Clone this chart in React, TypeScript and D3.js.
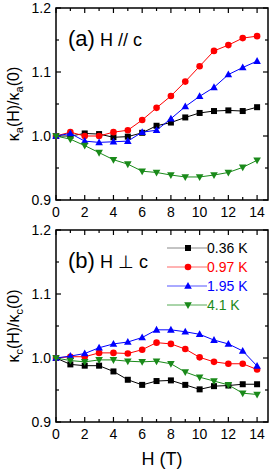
import React from "react";
import * as d3 from "d3";

const fields = d3.range(0, 15);

// panel (a) H // c
const aBlack = [1.0, 1.0, 1.004, 1.003, 0.998, 0.999, 1.005, 1.016, 1.021, 1.029, 1.036, 1.039, 1.04, 1.039, 1.045];
const aRed = [1.0, 1.006, 1.0, 1.0, 1.006, 1.009, 1.025, 1.044, 1.0625, 1.085, 1.109, 1.133, 1.142, 1.153, 1.156];
const aBlue = [1.0, 1.004, 0.992, 0.99, 0.991, 0.992, 1.006, 1.009, 1.027, 1.046, 1.062, 1.076, 1.096, 1.107, 1.117];
const aGreen = [1.0, 0.995, 0.985, 0.974, 0.963, 0.956, 0.945, 0.943, 0.939, 0.936, 0.936, 0.939, 0.943, 0.951, 0.962];

// panel (b) H ⊥ c
const bBlack = [1.0, 0.99, 0.988, 0.988, 0.979, 0.966, 0.958, 0.964, 0.965, 0.958, 0.951, 0.956, 0.957, 0.959, 0.959];
const bRed = [1.0, 1.002, 1.002, 1.008, 1.008, 1.007, 1.013, 1.024, 1.022, 1.014, 1.001, 0.994, 0.991, 0.991, 0.982];
const bBlue = [1.0, 1.003, 1.007, 1.016, 1.022, 1.025, 1.032, 1.044, 1.044, 1.041, 1.037, 1.028, 1.022, 1.011, 0.9875];
const bGreen = [1.0, 0.996, 0.994, 0.997, 0.997, 0.995, 0.994, 0.995, 0.991, 0.978, 0.97, 0.964, 0.958, 0.945, 0.943];

const labels = ["0.36 K", "0.97 K", "1.95 K", "4.1 K"];
const colors = ["#000000", "#ff0000", "#0000ff", "#1a8a1a"];
const legendLine = ["#888888", "#ff6666", "#5555ff", "#55aa55"];
const shapes = ["square", "circle", "up", "down"];

const xTicks = [0, 2, 4, 6, 8, 10, 12, 14];
const yTicks = [0.9, 1.0, 1.1, 1.2];

const font = "'Liberation Sans', Arial, sans-serif";
const left = 56;
const right = 268;

const Marker = ({ shape, x, y, color }: { shape: string; x: number; y: number; color: string }) => {
  if (shape === "square") return <rect x={x - 3} y={y - 3} width={6} height={6} fill={color} />;
  if (shape === "circle") return <circle cx={x} cy={y} r={3.3} fill={color} />;
  if (shape === "up")
    return <path d={`M${x},${y - 4}L${x + 3.8},${y + 2.8}L${x - 3.8},${y + 2.8}Z`} fill={color} />;
  return <path d={`M${x},${y + 4}L${x + 3.8},${y - 2.8}L${x - 3.8},${y - 2.8}Z`} fill={color} />;
};

const Panel = ({
  top,
  bottom,
  series,
  sub,
  label,
  sym,
  legend,
}: {
  top: number;
  bottom: number;
  series: number[][];
  sub: string;
  label: string;
  sym: string;
  legend: boolean;
}) => {
  const x = d3.scaleLinear().domain([0, 14.76]).range([left, right]);
  const y = d3.scaleLinear().domain([0.9, 1.2]).range([bottom, top]);
  const line = d3
    .line<number>()
    .x((_, i) => x(fields[i]))
    .y((d) => y(d));
  const minorX = d3.range(0, 15);
  const minorY = d3.range(0.9, 1.2001, 0.05);
  return (
    <g>
      {/* ticks inward on all sides */}
      <g stroke="#000" strokeWidth={1.2}>
        {minorX.map((t) => {
          const len = t % 2 === 0 ? 5 : 3;
          return (
            <g key={`x-${t}`}>
              <line x1={x(t)} x2={x(t)} y1={bottom} y2={bottom - len} />
              <line x1={x(t)} x2={x(t)} y1={top} y2={top + len} />
            </g>
          );
        })}
        {minorY.map((t, i) => {
          const len = i % 2 === 0 ? 5 : 3;
          return (
            <g key={`y-${i}`}>
              <line x1={left} x2={left + len} y1={y(t)} y2={y(t)} />
              <line x1={right} x2={right - len} y1={y(t)} y2={y(t)} />
            </g>
          );
        })}
      </g>
      <rect x={left} y={top} width={right - left} height={bottom - top} fill="none" stroke="#000" strokeWidth={1.5} />
      {xTicks.map((t) => (
        <text key={`xl-${t}`} x={x(t)} y={bottom + 17} textAnchor="middle" fontSize={14} fontFamily={font}>
          {t}
        </text>
      ))}
      {yTicks.map((t) => (
        <text key={`yl-${t}`} x={left - 5} y={y(t) + 5} textAnchor="end" fontSize={14} fontFamily={font}>
          {t.toFixed(1)}
        </text>
      ))}
      <text
        transform={`translate(19,${(top + bottom) / 2}) rotate(-90)`}
        textAnchor="middle"
        fontSize={16}
        fontFamily={font}
      >
        κ<tspan fontSize={11} dy={4}>{sub}</tspan>
        <tspan dy={-4}>(H)/κ</tspan>
        <tspan fontSize={11} dy={4}>{sub}</tspan>
        <tspan dy={-4}>(0)</tspan>
      </text>
      <text x={68} y={top + 38} fontFamily={font}>
        <tspan fontSize={22}>{label}</tspan>
        <tspan fontSize={18}> H {sym} c</tspan>
      </text>
      {series.map((s, k) => (
        <g key={`s-${k}`}>
          <path d={line(s) || ""} fill="none" stroke={colors[k]} strokeWidth={1} />
          {s.map((v, i) => (
            <Marker key={i} shape={shapes[k]} x={x(fields[i])} y={y(v)} color={colors[k]} />
          ))}
        </g>
      ))}
      {legend &&
        labels.map((l, k) => {
          const ly = top + 18 + k * 19;
          return (
            <g key={`lg-${k}`}>
              <line x1={167} x2={207} y1={ly} y2={ly} stroke={legendLine[k]} strokeWidth={1} />
              <Marker shape={shapes[k]} x={188} y={ly} color={colors[k]} />
              <text x={207} y={ly + 5} fontSize={14} fontFamily={font} fill={colors[k]}>
                {l}
              </text>
            </g>
          );
        })}
    </g>
  );
};

export default function App() {
  return (
    <svg width={273} height={469} style={{ position: "absolute", left: 0, top: 0, background: "#fff" }}>
      <Panel
        top={8}
        bottom={200}
        series={[aBlack, aRed, aBlue, aGreen]}
        sub="a"
        label="(a)"
        sym="//"
        legend={false}
      />
      <Panel
        top={230}
        bottom={422}
        series={[bBlack, bRed, bBlue, bGreen]}
        sub="c"
        label="(b)"
        sym="⊥"
        legend={true}
      />
      <text x={162} y={465} textAnchor="middle" fontSize={18} fontFamily={font}>
        H (T)
      </text>
    </svg>
  );
}
